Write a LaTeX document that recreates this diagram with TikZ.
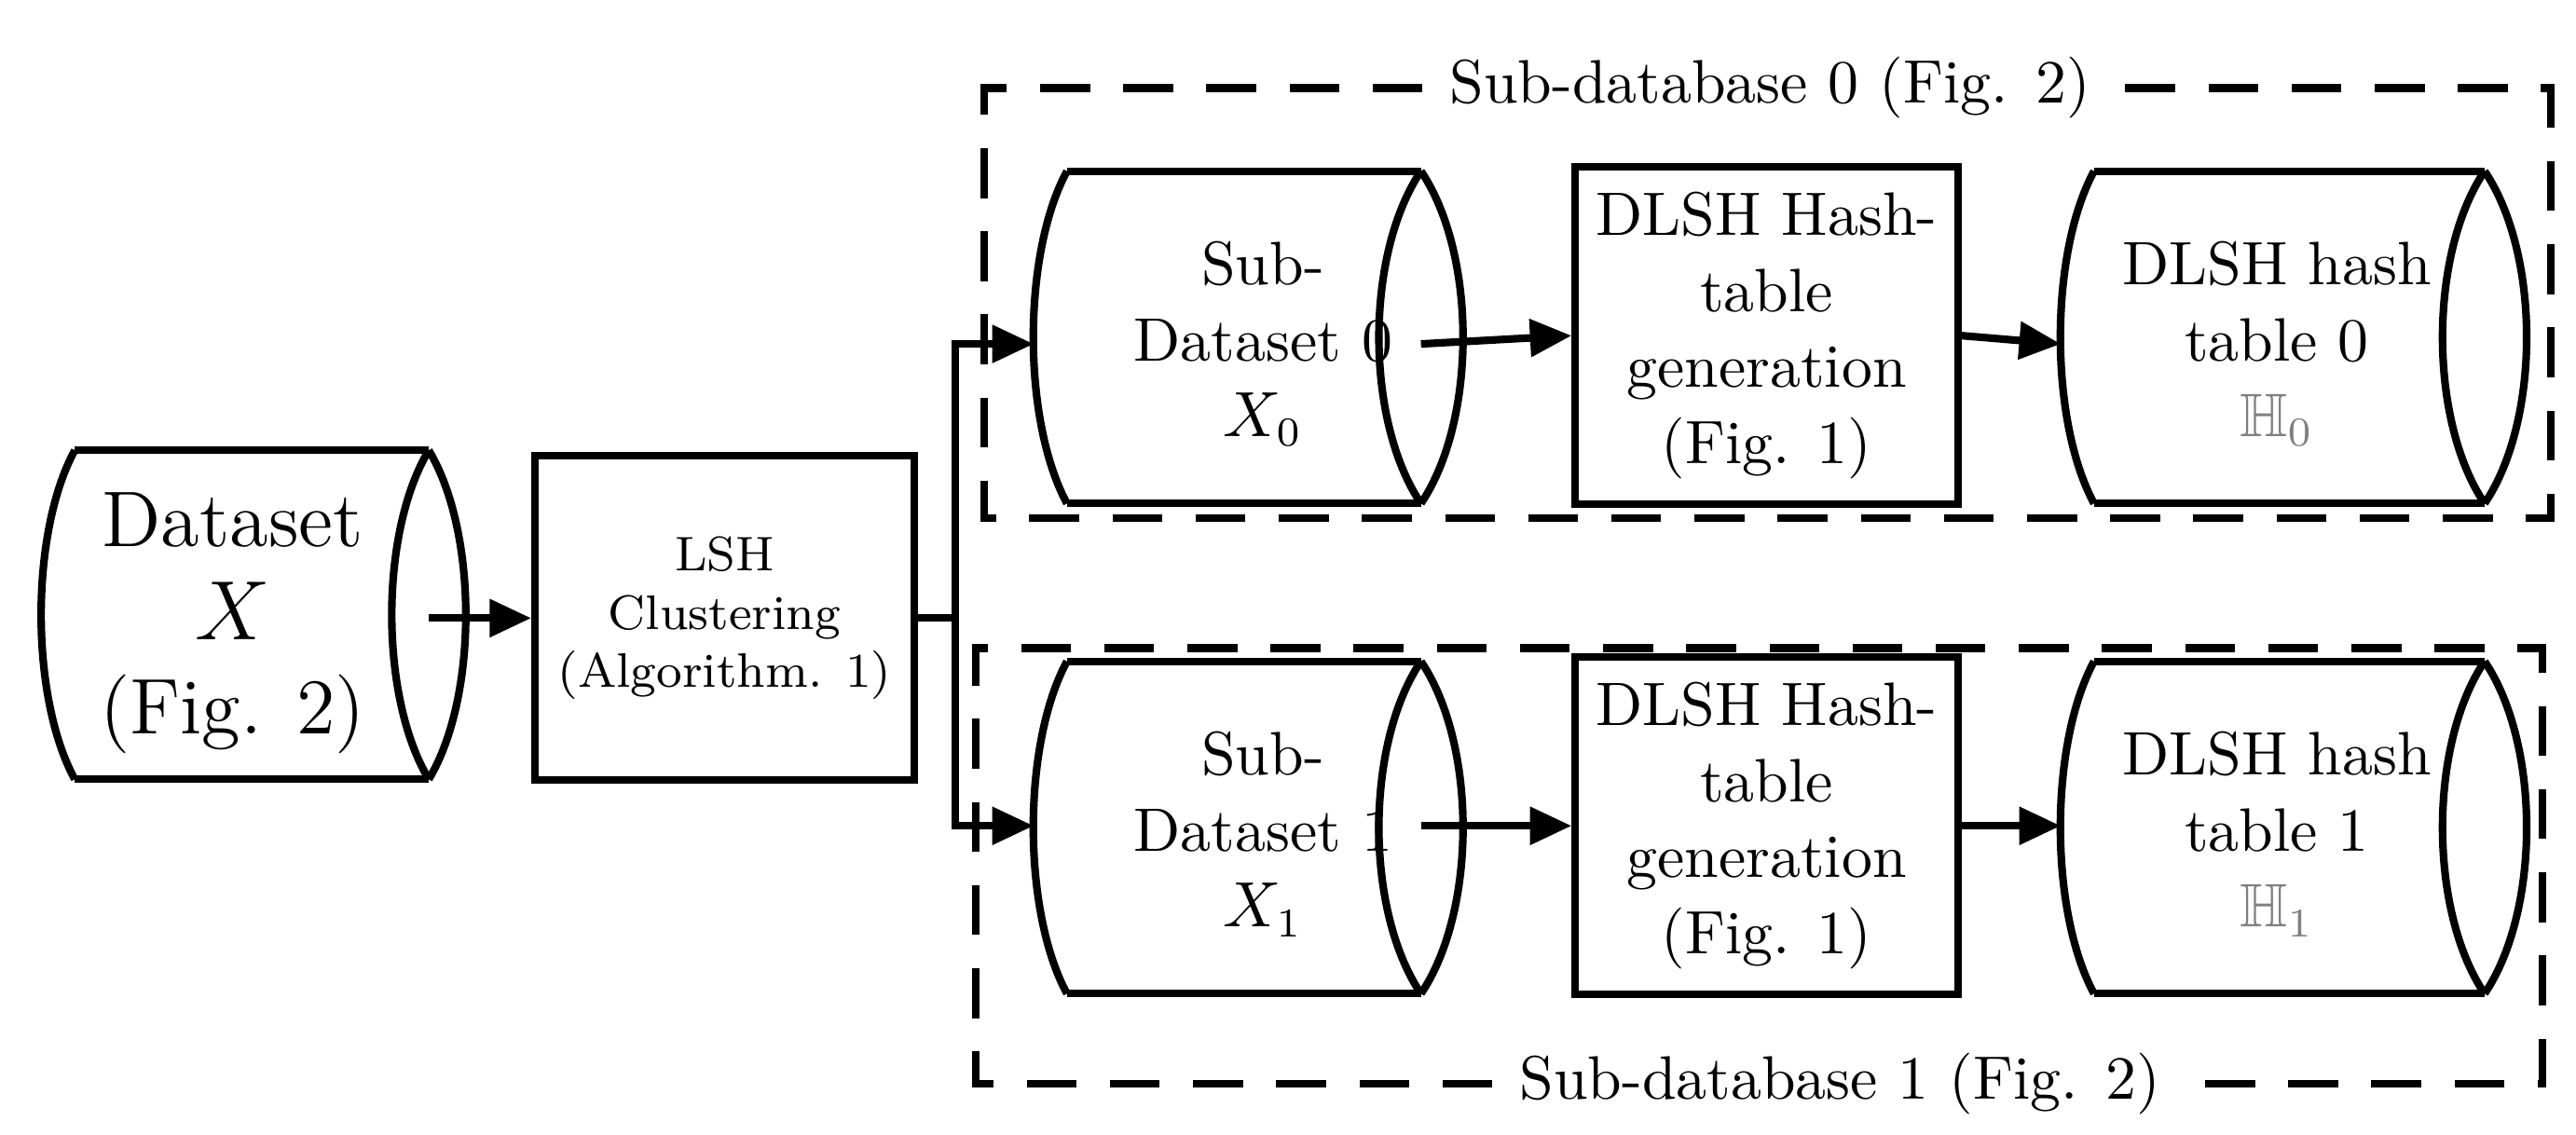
\documentclass[tikz,border=0pt]{standalone}
\usepackage{amssymb}
\usetikzlibrary{arrows.meta}
\begin{document}
\begin{tikzpicture}[x=0.01cm,y=-0.01cm,
  line width=1.3pt,
  arr/.style={-{Triangle[length=0.25cm,width=0.22cm]}},
  box/.style={draw,minimum width=2.3cm,align=center,inner sep=0pt},
  txt/.style={align=center,font=\fontsize{10.5}{13}\selectfont},
  grpdash/.style={dash pattern=on 0.3cm off 0.2cm}]
\useasboundingbox (0,0) rectangle (1550,683);
% horizontal cylinder: #1 left x, #2 ellipse centre x, #3 centre y, #4 half height, #5 rx
\newcommand{\hcyl}[5]{%
  \draw (#1+20,#3-#4) -- (#2,#3-#4) (#1+20,#3+#4) -- (#2,#3+#4);
  \draw (#1+20,#3-#4) .. controls (#1-7,#3-#4/2) and (#1-7,#3+#4/2) .. (#1+20,#3+#4);
  \draw (#2,#3-#4) .. controls (#2-#5*1.35,#3-#4/2) and (#2-#5*1.35,#3+#4/2) .. (#2,#3+#4);
  \draw (#2,#3-#4) .. controls (#2+#5*1.35,#3-#4/2) and (#2+#5*1.35,#3+#4/2) .. (#2,#3+#4);}
% Dataset
\hcyl{25}{258}{370}{99}{22}
\node[txt,font=\fontsize{13.5}{16}\selectfont] (ds) at (140,375) {Dataset\\$X$\\(Fig. 2)};
\coordinate (dsr) at (258,372);
\node[box,minimum width=2.28cm,minimum height=1.95cm,font=\fontsize{8.3}{10}\selectfont] (lsh) at (436,372) {LSH\\Clustering\\(Algorithm. 1)};
\draw[arr] (dsr) -- (lsh.west);
% top branch
\hcyl{622}{855}{203}{100}{25}
\node[txt] (s0) at (760,207) {Sub-\\Dataset 0\\$X_0$};
\coordinate (s0l) at (622,207); \coordinate (s0r) at (855,207);
\node[box,minimum height=2.03cm] (g0) at (1063,202) {};
\node[txt] at (1063,202) {DLSH Hash-\\table\\generation\\(Fig. 1)};
\hcyl{1240}{1495}{203}{100}{25}
\node[txt] (h0) at (1370,207) {DLSH hash\\table 0\\\textcolor{gray}{$\mathbb{H}_0$}};
\coordinate (h0l) at (1240,207);
% bottom branch
\hcyl{622}{855}{498}{100}{25}
\node[txt] (s1) at (760,502) {Sub-\\Dataset 1\\$X_1$};
\coordinate (s1l) at (622,497); \coordinate (s1r) at (855,497);
\node[box,minimum height=2.03cm] (g1) at (1063,497) {};
\node[txt] at (1063,497) {DLSH Hash-\\table\\generation\\(Fig. 1)};
\hcyl{1240}{1495}{498}{100}{25}
\node[txt] (h1) at (1370,502) {DLSH hash\\table 1\\\textcolor{gray}{$\mathbb{H}_1$}};
\coordinate (h1l) at (1240,497);
% branch connectors
\coordinate (br) at (575,372);
\draw (lsh.east) -- (br);
\draw[arr] (br) |- (s0l);
\draw[arr] (br) |- (s1l);
\draw[arr] (s0r) -- (g0.west);
\draw[arr] (g0.east) -- (h0l);
\draw[arr] (s1r) -- (g1.west);
\draw[arr] (g1.east) -- (h1l);
% dashed groups
\node[txt,fill=white,inner sep=4pt] (l0) at (1065,53) {Sub-database 0 (Fig. 2)};
\draw[grpdash] (l0.west) -- (592,53) -- (592,312) -- (1535,312) -- (1535,53) -- (l0.east);
\node[txt,fill=white,inner sep=4pt] (l1) at (1107,652) {Sub-database 1 (Fig. 2)};
\draw[grpdash] (l1.west) -- (587,652) -- (587,390) -- (1530,390) -- (1530,652) -- (l1.east);
\end{tikzpicture}
\end{document}
